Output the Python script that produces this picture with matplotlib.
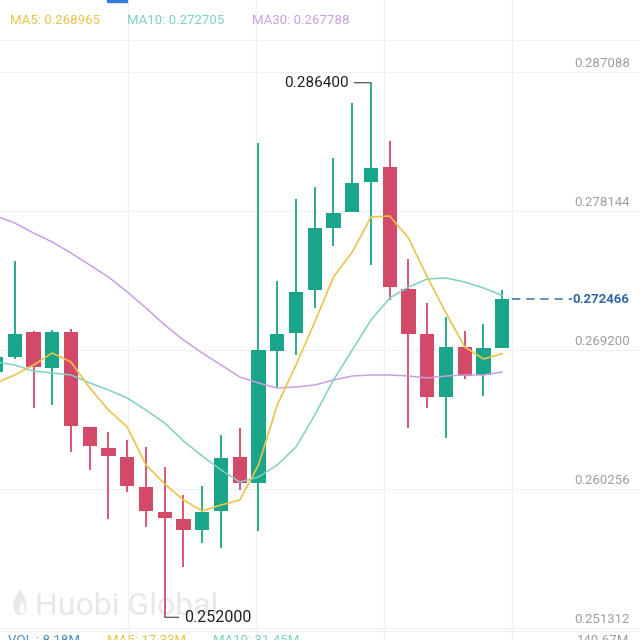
import numpy as np
import matplotlib.pyplot as plt
from matplotlib.patches import Rectangle, Polygon

plt.rcParams['font.family'] = ['Roboto', 'DejaVu Sans']

# candle data (oldest first)
opens = [0.26778, 0.26875, 0.27036, 0.26804, 0.27036, 0.26425, 0.26289, 0.26232,
         0.26039, 0.25878, 0.25833, 0.25762, 0.25884, 0.26232, 0.26064, 0.26914,
         0.27029, 0.27306, 0.27705, 0.27808, 0.28001, 0.28098, 0.27313, 0.27023,
         0.26618, 0.26939, 0.26759, 0.26933]
highs = [0.26888, 0.27493, 0.27042, 0.27049, 0.27055, 0.26425, 0.26392, 0.26341,
         0.26296, 0.26167, 0.25987, 0.26045, 0.26373, 0.26418, 0.28252, 0.27364,
         0.27892, 0.27969, 0.28155, 0.28509, 0.28640, 0.28265, 0.27506, 0.27222,
         0.27132, 0.27042, 0.27087, 0.27306]
lows = [0.26766, 0.26862, 0.26547, 0.26566, 0.26264, 0.26148, 0.25833, 0.26006,
        0.25781, 0.25200, 0.25524, 0.25678, 0.25646, 0.26019, 0.25755, 0.26676,
        0.26888, 0.27190, 0.27589, 0.27808, 0.27467, 0.27242, 0.26418, 0.26547,
        0.26354, 0.26733, 0.26624, 0.26933]
closes = [0.26875, 0.27023, 0.26811, 0.27036, 0.26431, 0.26302, 0.26238, 0.26045,
          0.25884, 0.25839, 0.25762, 0.25878, 0.26225, 0.26064, 0.26920, 0.27023,
          0.27293, 0.27705, 0.27802, 0.27995, 0.28091, 0.27325, 0.27023, 0.26618,
          0.26939, 0.26753, 0.26933, 0.272466]

ma5 = [0.267077, 0.267592, 0.268235, 0.269007, 0.268428, 0.266755, 0.265339, 0.264245,
       0.261800, 0.260578, 0.259548, 0.258841, 0.259226, 0.259548, 0.261800, 0.265661,
       0.268235, 0.271002, 0.273897, 0.275506, 0.277758, 0.277822, 0.276407, 0.273897,
       0.271581, 0.269393, 0.268621, 0.268965]
ma10 = [0.268428, 0.268235, 0.267849, 0.267720, 0.267592, 0.267077, 0.266626, 0.266111,
        0.265339, 0.264503, 0.263345, 0.262379, 0.261478, 0.260706, 0.261028, 0.261800,
        0.262958, 0.265017, 0.267270, 0.269200, 0.271130, 0.272546, 0.273254, 0.273768,
        0.273833, 0.273575, 0.273189, 0.272705]
ma30 = [0.277822, 0.277372, 0.276728, 0.276149, 0.275442, 0.274669, 0.273897, 0.272932,
        0.271903, 0.270809, 0.269843, 0.269007, 0.268235, 0.267463, 0.267077, 0.266755,
        0.266819, 0.266948, 0.267270, 0.267527, 0.267592, 0.267592, 0.267527, 0.267398,
        0.267527, 0.267592, 0.267592, 0.267788]

price_ticks = [0.287088, 0.278144, 0.269200, 0.260256, 0.251312]
last_price = 0.272466
hi_mark = 0.286400
lo_mark = 0.252000
legend_labels = ['MA5: 0.268965', 'MA10: 0.272705', 'MA30: 0.267788']
vol_labels = ['VOL : 8.18M', 'MA5: 17.33M', 'MA10: 31.45M']
vol_max = '140.67M'

UP = '#19a589'
DOWN = '#d34a69'
C5, C10, C30 = '#e9c44c', '#7fd0c2', '#c99fe0'
GRID = '#f0f0f0'
LABEL = '#9a9fa5'
WM = '#e8e8e8'

fig = plt.figure(figsize=(6.4, 6.4), dpi=100)
ax = fig.add_axes([0, 0, 1, 1])
ax.set_axis_off()
ax.set_xlim(0.2133, 34.347)
ax.set_ylim(0.25054, 0.291721)

o = np.array(opens); h = np.array(highs); l = np.array(lows); c = np.array(closes)
x = np.arange(len(o))
cols = np.where(c >= o, UP, DOWN)

# grid
for p in price_ticks:
    ax.axhline(p, color=GRID, lw=0.9, zorder=0)
for f in [0.2, 0.4, 0.6, 0.8]:
    ax.plot([f, f], [0, 1], color=GRID, lw=0.9, transform=ax.transAxes, zorder=0)
ax.plot([0, 1], [1 - 40 / 640] * 2, color=GRID, lw=0.9, transform=ax.transAxes, zorder=0)

# watermark (flame + name)
ax.text(35 / 640, 1 - 615 / 640, 'Huobi Global', transform=ax.transAxes, fontsize=23,
        color=WM, ha='left', va='baseline', zorder=0)
t = np.linspace(0, 2 * np.pi, 80)
fx = 20 + 8.5 * np.sin(t) * np.sin(t / 2)
fy = 602 - 13 * np.cos(t)
ax.add_patch(Polygon(np.column_stack([fx / 640, 1 - fy / 640]), closed=True,
                     transform=ax.transAxes, color=WM, lw=0, zorder=0))
gx = 22 + 3.5 * np.sin(t) * np.sin(t / 2)
gy = 607 - 6 * np.cos(t)
ax.add_patch(Polygon(np.column_stack([gx / 640, 1 - gy / 640]), closed=True,
                     transform=ax.transAxes, color='white', lw=0, zorder=0))

# candles
ax.vlines(x, l, h, colors=cols, lw=1.3, zorder=2)
body = np.maximum(np.abs(c - o), 0.00004)
ax.bar(x, body, bottom=np.minimum(o, c), width=0.75, color=cols, linewidth=0, zorder=2)

# moving averages
ax.plot(x, ma30, color=C30, lw=1.1, zorder=3)
ax.plot(x, ma10, color=C10, lw=1.1, zorder=3)
ax.plot(x, ma5, color=C5, lw=1.2, zorder=3)

# price labels on the right
for p in price_ticks:
    ax.annotate(f'{p:.6f}', xy=(0.984, p), xycoords=('axes fraction', 'data'),
                xytext=(0, 3.6), textcoords='offset points', ha='right', va='baseline',
                fontsize=9.5, color=LABEL)

# last price marker
ax.plot([27.52, 30.72], [last_price, last_price], color='#4f79a6', lw=1.2,
        linestyle=(0, (5, 3.5)), zorder=3)
ax.annotate(f'{last_price:.6f}', xy=(0.984, last_price), xycoords=('axes fraction', 'data'),
            ha='right', va='center', fontsize=9.5, color='#2f69a3', fontweight='bold')

# high / low markers
ih = int(np.argmax(h)); il = int(np.argmin(l))
ax.annotate(f'{hi_mark:.6f}', xy=(ih, hi_mark), xytext=(-16, 0), textcoords='offset points',
            ha='right', va='center', fontsize=11, color='#222222',
            arrowprops=dict(arrowstyle='-', color='#555555', lw=0.9, shrinkA=2, shrinkB=0))
ax.annotate(f'{lo_mark:.6f}', xy=(il, lo_mark), xytext=(14, 0), textcoords='offset points',
            ha='left', va='center', fontsize=11.5, color='#222222',
            arrowprops=dict(arrowstyle='-', color='#555555', lw=0.9, shrinkA=2, shrinkB=0))

# header legend
for lab, col, px in zip(legend_labels, [C5, C10, C30], [10, 127, 252]):
    ax.text(px / 640, 1 - 20 / 640, lab, transform=ax.transAxes, fontsize=9.5,
            color=col, ha='left', va='center')
ax.add_patch(Rectangle((107 / 640, 1 - 2 / 640), 20 / 640, 2 / 640, transform=ax.transAxes,
                       color='#2f7fd8', zorder=4))

# volume header row (cut off at the bottom)
ax.plot([0, 1], [1 - 631 / 640] * 2, color=GRID, lw=0.9, transform=ax.transAxes)
for lab, col, px in zip(vol_labels, ['#4b8cc4', C5, C10], [8, 107, 213]):
    ax.text(px / 640, 1 - 634 / 640, lab, transform=ax.transAxes, fontsize=9.5,
            color=col, ha='left', va='top')
ax.text(0.984, 1 - 634 / 640, vol_max, transform=ax.transAxes, fontsize=9.5,
        color=LABEL, ha='right', va='top')

fig.savefig('out.png', dpi=100)
